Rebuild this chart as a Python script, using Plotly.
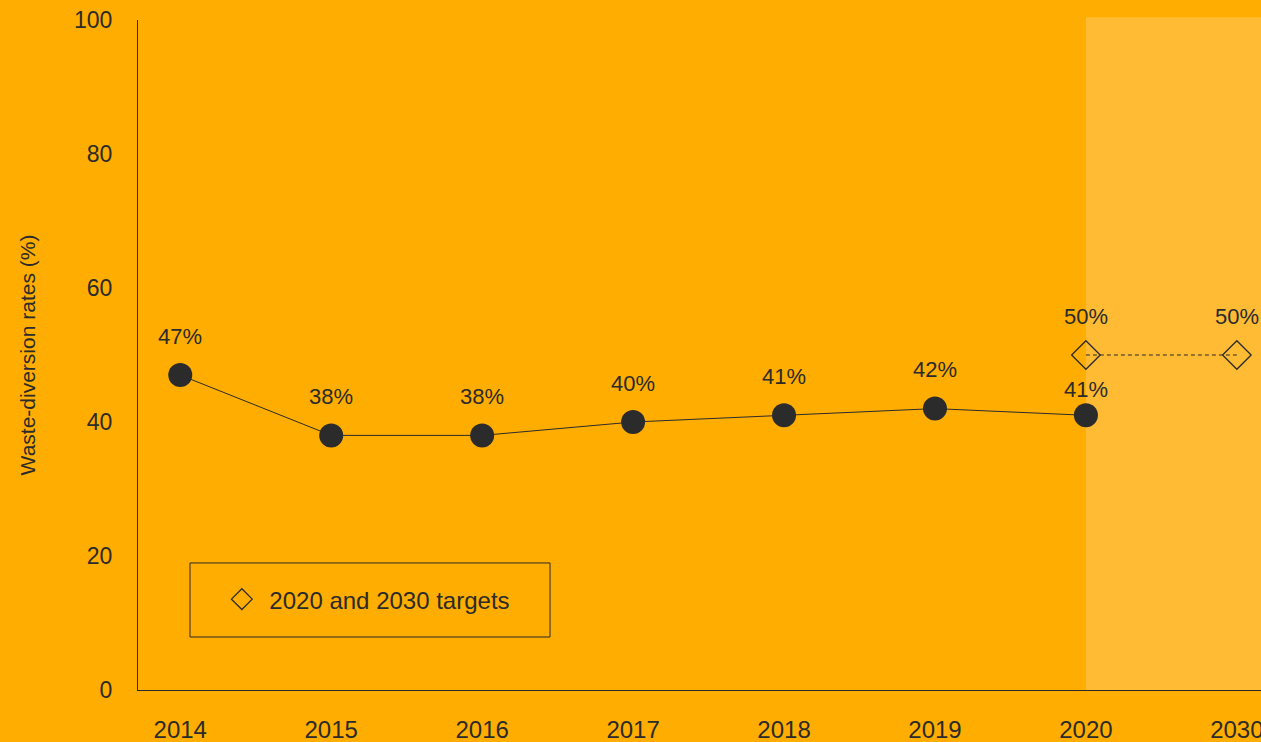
import plotly.graph_objects as go

years = ["2014", "2015", "2016", "2017", "2018", "2019", "2020", "2030"]
actual_years = ["2014", "2015", "2016", "2017", "2018", "2019", "2020"]
actual_rates = [47, 38, 38, 40, 41, 42, 41]
target_years = ["2020", "2030"]
target_rates = [50, 50]
y_ticks = [0, 20, 40, 60, 80, 100]

BG = "#FFAD00"
SHADE = "#FFBB33"
DARK = "#2b2b2b"
FONT = "Liberation Sans, Arial, sans-serif"

pos = {y: i for i, y in enumerate(years)}
ax = [pos[y] for y in actual_years]
tx = [pos[y] for y in target_years]

fig = go.Figure()

fig.add_trace(go.Scatter(
    x=ax, y=actual_rates, mode="lines+markers",
    line=dict(color=DARK, width=1),
    marker=dict(color=DARK, size=24),
    showlegend=False, cliponaxis=False,
))
fig.add_trace(go.Scatter(
    x=tx, y=target_rates, mode="lines",
    line=dict(color=DARK, width=1, dash="4px,3px"),
    showlegend=False, cliponaxis=False, hoverinfo="skip",
))
fig.add_trace(go.Scatter(
    x=tx, y=target_rates, mode="markers",
    name="2020 and 2030 targets",
    marker=dict(symbol="diamond-open", color=DARK, size=22, line=dict(width=1.3, color=DARK)),
    showlegend=True, cliponaxis=False,
))

annotations = []
for i, (x, v) in enumerate(zip(ax, actual_rates)):
    shift = 26 if actual_years[i] in target_years else 39
    annotations.append(dict(x=x, y=v, text=f"{v}%", showarrow=False, yshift=shift,
                            font=dict(size=22, color=DARK, family=FONT)))
for x, v in zip(tx, target_rates):
    annotations.append(dict(x=x, y=v, text=f"{v}%", showarrow=False, yshift=39,
                            font=dict(size=22, color=DARK, family=FONT)))

shapes = [
    dict(type="rect", xref="x", yref="paper", x0=pos["2020"], x1=7.6, y0=0, y1=1.004,
         fillcolor=SHADE, line=dict(width=0), layer="below"),
    dict(type="rect", xref="paper", yref="paper", x0=0.0463, x1=0.3669, y0=0.0791, y1=0.1896,
         fillcolor="rgba(0,0,0,0)", line=dict(color=DARK, width=1)),
]

fig.update_layout(
    width=1261, height=742,
    paper_bgcolor=BG, plot_bgcolor=BG,
    margin=dict(l=138, r=0, t=20, b=52),
    font=dict(family=FONT, color=DARK, size=23),
    xaxis=dict(range=[-0.28, 7.16], tickmode="array", tickvals=list(range(len(years))),
               ticktext=years, showgrid=False, zeroline=False, showline=True,
               linecolor=DARK, linewidth=1, ticks="", automargin=False,
               ticklabeloverflow="allow", ticklabelstandoff=18,
               tickfont=dict(size=24, color=DARK)),
    yaxis=dict(range=[0, 100], tickvals=y_ticks, showgrid=False, zeroline=False,
               showline=True, linecolor=DARK, linewidth=1, ticks="", automargin=False,
               ticklabelstandoff=20,
               title=dict(text="Waste-diversion rates (%)", standoff=32,
                          font=dict(size=21, color=DARK)),
               tickfont=dict(size=23, color=DARK)),
    legend=dict(x=0.068, y=0.135, xanchor="left", yanchor="middle",
                bgcolor="rgba(0,0,0,0)", borderwidth=0, itemwidth=45,
                font=dict(size=24, color=DARK)),
    annotations=annotations,
    shapes=shapes,
)

fig.write_html("out.html", config={"displayModeBar": False},
               post_script="document.body.style.margin='0';document.body.style.padding='0';")
